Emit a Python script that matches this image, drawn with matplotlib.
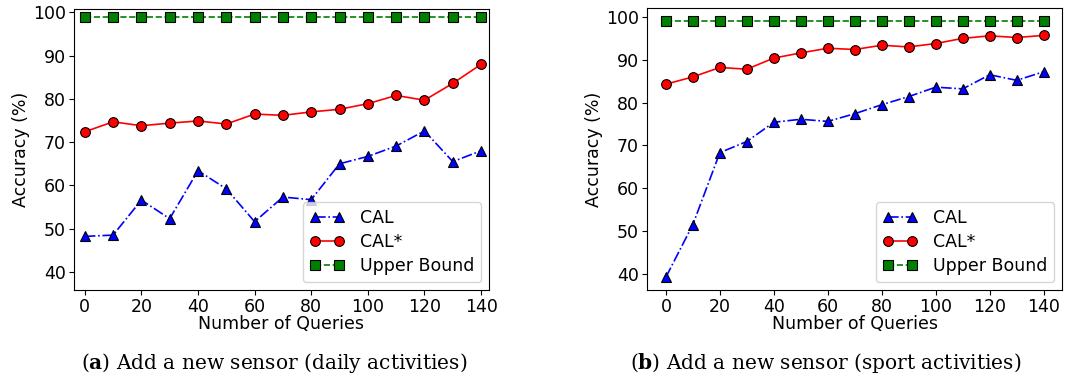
import matplotlib
matplotlib.use("Agg")
import matplotlib.pyplot as plt

queries = [0, 10, 20, 30, 40, 50, 60, 70, 80, 90, 100, 110, 120, 130, 140]

cal_a = [48.2, 48.5, 56.6, 52.3, 63.4, 59.2, 51.6, 57.3, 56.7, 65.0, 66.7, 69.1, 72.6, 65.5, 68.0]
calstar_a = [72.4, 74.7, 73.8, 74.4, 74.9, 74.2, 76.5, 76.2, 77.0, 77.6, 78.9, 80.8, 79.7, 83.6, 88.0]
upper_a = [99.0] * 15

cal_b = [39.2, 51.5, 68.3, 70.9, 75.4, 76.1, 75.6, 77.4, 79.5, 81.4, 83.6, 83.2, 86.5, 85.2, 87.2]
calstar_b = [84.3, 86.0, 88.2, 87.8, 90.4, 91.6, 92.7, 92.4, 93.4, 93.0, 93.8, 95.0, 95.6, 95.2, 95.7]
upper_b = [99.0] * 15

captions = [("a", " Add a new sensor (daily activities)"),
            ("b", " Add a new sensor (sport activities)")]

fig = plt.figure(figsize=(10.81, 3.79), dpi=100)
W, H = 1081, 379
ax1 = fig.add_axes([74 / W, 1 - 290 / H, (489 - 74) / W, (290 - 9) / H])
ax2 = fig.add_axes([647 / W, 1 - 290 / H, (1062 - 647) / W, (290 - 8) / H])

datasets = [(ax1, cal_a, calstar_a, upper_a, (-3.8, 142.8), (35.8, 100.8)),
            (ax2, cal_b, calstar_b, upper_b, (-7.0, 146.8), (36.2, 102.1))]

FS = 12.5
for ax, cal, cals, up, xl, yl in datasets:
    ax.plot(queries, cal, color="b", linestyle="-.", marker="^", markersize=7,
            markeredgecolor="black", markeredgewidth=0.8, linewidth=1.2, label="CAL")
    ax.plot(queries, cals, color="r", linestyle="-", marker="o", markersize=7,
            markeredgecolor="black", markeredgewidth=0.8, linewidth=1.2, label="CAL*")
    ax.plot(queries, up, color="g", linestyle="--", marker="s", markersize=7,
            markeredgecolor="black", markeredgewidth=0.8, linewidth=1.2, label="Upper Bound")
    ax.set_xlim(*xl)
    ax.set_ylim(*yl)
    ax.set_xticks(range(0, 141, 20))
    ax.set_yticks(range(40, 101, 10))
    ax.tick_params(labelsize=FS, pad=2.5)
    ax.set_xlabel("Number of Queries", fontsize=FS, labelpad=-1)
    ax.set_ylabel("Accuracy (%)", fontsize=FS, labelpad=2)
    ax.legend(loc="lower right", fontsize=FS, handlelength=2.0, numpoints=2,
              borderaxespad=0.45, labelspacing=0.35, handletextpad=0.9)

for (letter, rest), xc in zip(captions, [274, 826]):
    fig.text(xc / W, 1 - 363 / H, r"($\mathbf{" + letter + r"}$)" + rest,
             ha="center", va="center", fontsize=14.5, family="DejaVu Serif",
             math_fontfamily="dejavuserif")

fig.savefig("out.png", dpi=100)
